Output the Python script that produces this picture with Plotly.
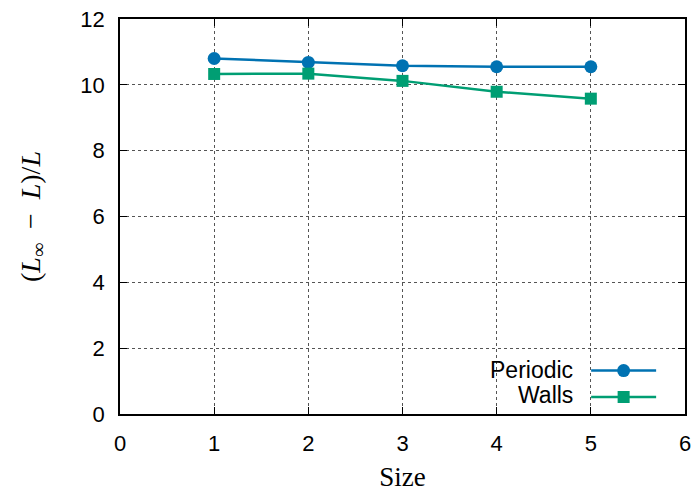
import plotly.graph_objects as go

sizes = [1, 2, 3, 4, 5]
periodic = [10.80, 10.68, 10.58, 10.55, 10.55]
walls = [10.33, 10.34, 10.12, 9.79, 9.58]
x_ticks = [0, 1, 2, 3, 4, 5, 6]
y_ticks = [0, 2, 4, 6, 8, 10, 12]
series_names = ["Periodic", "Walls"]

fig = go.Figure()
fig.add_trace(go.Scatter(x=sizes, y=periodic, mode="lines+markers", name=" ",
                         line=dict(color="#0072b2", width=2.5),
                         marker=dict(symbol="circle", size=13, color="#0072b2")))
fig.add_trace(go.Scatter(x=sizes, y=walls, mode="lines+markers", name="  ",
                         line=dict(color="#009e73", width=2.5),
                         marker=dict(symbol="square", size=12, color="#009e73")))

axis_common = dict(showline=True, linecolor="black", linewidth=1.5, mirror="ticks",
                   ticks="inside", ticklen=7, tickcolor="black", tickwidth=1,
                   showgrid=True, gridcolor="#555555", griddash="dot", gridwidth=1,
                   zeroline=False, automargin=False, ticklabelstandoff=9,
                   ticklabeloverflow="allow",
                   tickfont=dict(family="Liberation Sans, Arial, sans-serif", size=22, color="black"))

fig.update_xaxes(range=[0, 6], tickvals=x_ticks, ticktext=[str(v) for v in x_ticks],
                 title=dict(text="Size", font=dict(family="Liberation Serif, serif", size=27, color="black"),
                            standoff=12),
                 **axis_common)
fig.update_yaxes(range=[0, 12], tickvals=y_ticks, ticktext=[str(v) for v in y_ticks],
                 title=dict(text="(<i>L</i><sub>∞</sub>  −  <i>L</i>)/<i>L</i>",
                            font=dict(family="Liberation Serif, serif", size=28, color="black"),
                            standoff=32),
                 **axis_common)

# legend labels (right-aligned, left of the samples, gnuplot style)
fig.add_annotation(x=0.805, y=0.111, xref="paper", yref="paper", text=series_names[0],
                   showarrow=False, xanchor="right", yanchor="middle",
                   font=dict(family="Liberation Sans, Arial, sans-serif", size=23, color="black"))
fig.add_annotation(x=0.805, y=0.048, xref="paper", yref="paper", text=series_names[1],
                   showarrow=False, xanchor="right", yanchor="middle",
                   font=dict(family="Liberation Sans, Arial, sans-serif", size=23, color="black"))

fig.update_layout(width=692, height=487, plot_bgcolor="white", paper_bgcolor="white",
                  margin=dict(l=112, r=15, t=11, b=81),
                  legend=dict(x=0.825, y=0.156, xanchor="left", yanchor="top",
                              bgcolor="rgba(255,255,255,0)", itemwidth=65,
                              font=dict(family="Liberation Sans, Arial, sans-serif", size=18, color="black"),
                              tracegroupgap=0))

fig.write_html("out.html")
